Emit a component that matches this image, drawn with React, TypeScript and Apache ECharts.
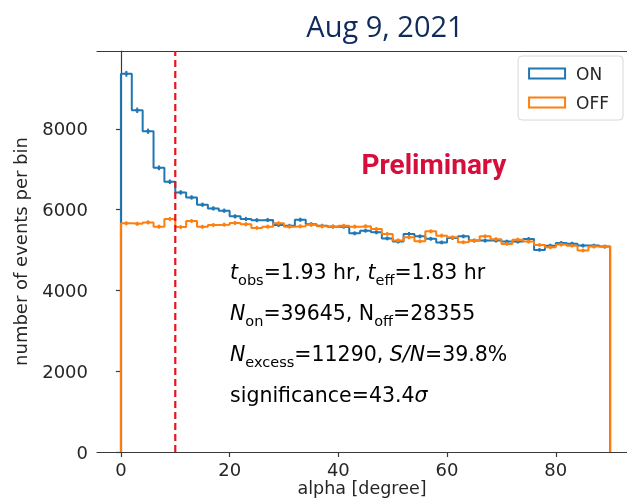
import React, { useEffect, useRef } from "react";
import * as echarts from "echarts";

const binStarts = [0, 2, 4, 6, 8, 10, 12, 14, 16, 18, 20, 22, 24, 26, 28, 30, 32, 34, 36, 38, 40, 42, 44, 46, 48, 50, 52, 54, 56, 58, 60, 62, 64, 66, 68, 70, 72, 74, 76, 78, 80, 82, 84, 86, 88];
const binWidth = 2;
const onCounts = [9365, 8462, 7943, 7037, 6691, 6427, 6303, 6123, 6032, 5975, 5835, 5770, 5740, 5745, 5620, 5600, 5750, 5640, 5600, 5580, 5580, 5415, 5480, 5440, 5290, 5210, 5400, 5340, 5280, 5190, 5300, 5340, 5235, 5235, 5235, 5210, 5210, 5276, 5005, 5110, 5178, 5160, 5111, 5111, 5086];
const offCounts = [5662, 5650, 5686, 5580, 5770, 5570, 5720, 5575, 5620, 5630, 5672, 5640, 5550, 5580, 5662, 5580, 5590, 5630, 5590, 5580, 5600, 5580, 5590, 5523, 5400, 5240, 5317, 5217, 5465, 5358, 5317, 5193, 5235, 5340, 5270, 5153, 5259, 5210, 5128, 5070, 5136, 5110, 4990, 5086, 5086];
const xTicks = [0, 20, 40, 60, 80];
const cutValue = 10;
const titleText = "Aug 9, 2021";
const stampText = "Preliminary";
const seriesNames = ["ON", "OFF"];

const ON_COLOR = "#1f77b4";
const OFF_COLOR = "#ff7f0e";
const TXT = "#262626";
const AX = "#3a3a3a";
const Y_MAX = 9930;

function stepPoints(counts: number[]) {
  const pts: number[][] = [[binStarts[0], 0]];
  counts.forEach((v, i) => {
    pts.push([binStarts[i], v]);
    pts.push([binStarts[i] + binWidth, v]);
  });
  pts.push([binStarts[binStarts.length - 1] + binWidth, 0]);
  return pts;
}

function errData(counts: number[]) {
  return counts.map((v, i) => [binStarts[i] + binWidth / 2, v, Math.sqrt(v)]);
}

function errSeries(counts: number[], color: string) {
  return {
    type: "custom",
    data: errData(counts),
    silent: true,
    z: 3,
    renderItem: (params: any, api: any) => {
      const x = api.value(0);
      const y = api.value(1);
      const e = api.value(2);
      const lo = api.coord([x, y - e]);
      const hi = api.coord([x, y + e]);
      const c = api.coord([x, y]);
      return {
        type: "group",
        children: [
          { type: "line", shape: { x1: lo[0], y1: lo[1] - 1, x2: hi[0], y2: hi[1] + 1 }, style: { stroke: color, lineWidth: 2 } },
          { type: "line", shape: { x1: c[0] - 2, y1: c[1], x2: c[0] + 2, y2: c[1] }, style: { stroke: color, lineWidth: 2 } },
        ],
      };
    },
  };
}

export default function App() {
  const ref = useRef<HTMLDivElement>(null);
  useEffect(() => {
    if (!ref.current) return;
    const chart = echarts.init(ref.current, undefined, { renderer: "svg" });
    const rich = {
      m: { fontSize: 20.5, fontFamily: "DejaVu Sans", color: TXT, lineHeight: 26 },
      i: { fontSize: 20.5, fontFamily: "DejaVu Sans", fontStyle: "italic", color: TXT, lineHeight: 26 },
      s: { fontSize: 14.5, fontFamily: "DejaVu Sans", color: TXT, lineHeight: 14, verticalAlign: "bottom", padding: [0, 0, -2, 0] },
    };
    const annot = [
      "{i|t}{s|obs}{m|=1.93 hr, }{i|t}{s|eff}{m|=1.83 hr}",
      "{i|N}{s|on}{m|=39645, N}{s|off}{m|=28355}",
      "{i|N}{s|excess}{m|=11290, }{i|S/N}{m|=39.8%}",
      "{m|significance=43.4}{i|σ}",
    ];
    const annotY = [272, 313, 354, 395];
    const labelFont = { fontSize: 18, fontFamily: "DejaVu Sans", color: TXT };
    chart.setOption({
      animation: false,
      grid: { left: 97, top: 51, right: 0, bottom: 46, show: false, outerBoundsMode: "none", containLabel: false },
      xAxis: [
        {
          type: "value",
          min: -4.4,
          max: 93.1,
          name: "alpha [degree]",
          nameLocation: "middle",
          nameGap: 27,
          nameMoveOverlap: false,
          nameTextStyle: { fontSize: 17.5, fontFamily: "DejaVu Sans", color: TXT, lineHeight: 18 },
          splitLine: { show: false },
          axisLine: { show: true, onZero: false, lineStyle: { color: AX, width: 1.2 } },
          axisTick: { show: true, length: 5, customValues: xTicks, lineStyle: { color: AX, width: 1.2 } },
          axisLabel: { customValues: xTicks, margin: 8, ...labelFont },
        },
        {
          type: "value",
          position: "top",
          min: -4.4,
          max: 93.1,
          splitLine: { show: false },
          axisLine: { show: true, onZero: false, lineStyle: { color: AX, width: 1.2 } },
          axisTick: { show: false },
          axisLabel: { show: false },
        },
      ],
      yAxis: {
        type: "value",
        min: 0,
        max: Y_MAX,
        interval: 2000,
        name: "number of events per bin",
        nameLocation: "middle",
        nameGap: 68,
        nameMoveOverlap: false,
        nameTextStyle: { fontSize: 18, fontFamily: "DejaVu Sans", color: TXT },
        splitLine: { show: false },
        axisLine: { show: true, lineStyle: { color: AX, width: 1.2 } },
        axisTick: { show: true, length: 5, lineStyle: { color: AX, width: 1.2 } },
        axisLabel: { margin: 9, showMaxLabel: false, formatter: (v: number) => String(v), ...labelFont },
      },
      legend: {
        right: 4,
        top: 56,
        orient: "vertical",
        itemWidth: 36,
        itemHeight: 10,
        itemGap: 12,
        padding: [9, 14, 9, 10],
        backgroundColor: "#fff",
        borderColor: "#d8d8d8",
        borderWidth: 1,
        borderRadius: 4,
        textStyle: { fontSize: 17, fontFamily: "DejaVu Sans", color: TXT, padding: [0, 0, 0, 6] },
        data: [
          { name: seriesNames[0], icon: "rect", itemStyle: { color: "#fff", borderColor: ON_COLOR, borderWidth: 2 } },
          { name: seriesNames[1], icon: "rect", itemStyle: { color: "#fff", borderColor: OFF_COLOR, borderWidth: 2 } },
        ],
      },
      series: [
        {
          name: seriesNames[0],
          type: "line",
          data: stepPoints(onCounts),
          showSymbol: false,
          symbol: "none",
          lineStyle: { color: ON_COLOR, width: 2 },
          itemStyle: { color: ON_COLOR },
          z: 2,
        },
        {
          name: seriesNames[1],
          type: "line",
          data: stepPoints(offCounts),
          showSymbol: false,
          symbol: "none",
          lineStyle: { color: OFF_COLOR, width: 2 },
          itemStyle: { color: OFF_COLOR },
          z: 4,
        },
        errSeries(onCounts, ON_COLOR),
        errSeries(offCounts, OFF_COLOR),
        {
          type: "line",
          data: [[cutValue, 0], [cutValue, Y_MAX]],
          showSymbol: false,
          symbol: "none",
          lineStyle: { color: "#e8141c", width: 2.2, type: [7, 4] },
          z: 5,
          silent: true,
        },
      ],
      graphic: [
        {
          type: "text",
          x: 385,
          y: 25,
          style: {
            text: titleText,
            fontSize: 29,
            fontWeight: 500,
            fontFamily: "Open Sans",
            fill: "#0f2b5b",
            align: "center",
            verticalAlign: "middle",
          },
        },
        {
          type: "text",
          x: 434,
          y: 164,
          style: {
            text: stampText,
            fontSize: 28,
            fontWeight: "bold",
            fontFamily: "Roboto",
            fill: "#d50e3c",
            align: "center",
            verticalAlign: "middle",
          },
        },
        ...annot.map((t, k) => ({
          type: "text",
          z: 10,
          x: 230,
          y: annotY[k],
          style: {
            text: t,
            verticalAlign: "middle",
            align: "left",
            rich,
          },
        })),
      ],
    });
    return () => chart.dispose();
  }, []);
  return <div ref={ref} style={{ position: "fixed", left: 0, top: 0, width: 627, height: 498 }} />;
}
